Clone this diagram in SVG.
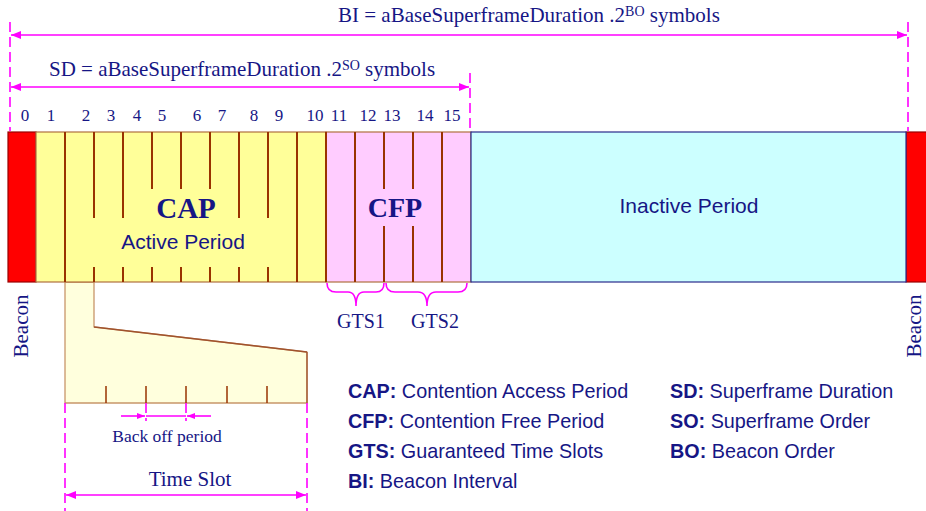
<svg xmlns="http://www.w3.org/2000/svg" width="926" height="511" viewBox="0 0 926 511">
  <defs>
    <marker id="arr" markerUnits="userSpaceOnUse" markerWidth="11" markerHeight="9" refX="10" refY="4" orient="auto-start-reverse">
      <path d="M0,0 L10,4 L0,8 z" fill="#ff00ff"/>
    </marker>
    <marker id="arrS" markerUnits="userSpaceOnUse" markerWidth="9" markerHeight="7" refX="8" refY="3" orient="auto">
      <path d="M0,0 L8,3 L0,6 z" fill="#ff00ff"/>
    </marker>
    <style>
      .serif { font-family: "Liberation Serif", "Times New Roman", serif; fill: #161685; }
      .sans { font-family: "Liberation Sans", Arial, sans-serif; fill: #161685; }
      .num { font-size: 17px; text-anchor: middle; }
      .slot { stroke: #993300; stroke-width: 2; fill: none; }
      .dash { stroke: #ff00ff; stroke-width: 1.6; stroke-dasharray: 10 5; fill: none; }
      .dim { stroke: #ff00ff; stroke-width: 1.6; fill: none; }
      .legend { font-size: 19.8px; }
      .legend .k { font-weight: bold; }
    </style>
  </defs>

  <!-- dimension guides -->
  <g id="dimensions">
    <line class="dash" x1="10" y1="22" x2="10" y2="131"/>
    <line class="dash" x1="908" y1="22" x2="908" y2="131"/>
    <line class="dash" x1="470" y1="73" x2="470" y2="131"/>
    <line class="dim" x1="11" y1="35" x2="907" y2="35" marker-start="url(#arr)" marker-end="url(#arr)"/>
    <line class="dim" x1="11" y1="87" x2="469" y2="87" marker-start="url(#arr)" marker-end="url(#arr)"/>
    <text class="serif" x="338" y="22" font-size="21">BI = aBaseSuperframeDuration .2<tspan font-size="14" dy="-6">BO</tspan><tspan dy="6"> symbols</tspan></text>
    <text class="serif" x="49" y="76" font-size="21">SD = aBaseSuperframeDuration .2<tspan font-size="14" dy="-6">SO</tspan><tspan dy="6"> symbols</tspan></text>
  </g>

  <!-- slot numbers -->
  <g id="slot-numbers" class="serif num">
    <text x="25" y="121">0</text>
    <text x="51" y="121">1</text>
    <text x="86" y="121">2</text>
    <text x="111" y="121">3</text>
    <text x="137" y="121">4</text>
    <text x="162" y="121">5</text>
    <text x="197" y="121">6</text>
    <text x="222" y="121">7</text>
    <text x="254" y="121">8</text>
    <text x="279" y="121">9</text>
    <text x="315" y="121">10</text>
    <text x="339" y="121">11</text>
    <text x="368" y="121">12</text>
    <text x="392" y="121">13</text>
    <text x="425" y="121">14</text>
    <text x="452" y="121">15</text>
  </g>

  <!-- zoomed view of one time slot -->
  <g id="slot-zoom">
    <polygon points="65,282 65,403 307,403 307,352 94,327 94,282" fill="#ffffdd" stroke="#c8966a" stroke-width="1.3"/>
    <line x1="94" y1="327" x2="307" y2="352" stroke="#a0522d" stroke-width="1.3"/>
    <line x1="307" y1="352" x2="307" y2="403" stroke="#a0522d" stroke-width="1.3"/>
    <g stroke="#993300" stroke-width="1.5">
      <line x1="106" y1="386" x2="106" y2="403"/>
      <line x1="146" y1="386" x2="146" y2="403"/>
      <line x1="186" y1="386" x2="186" y2="403"/>
      <line x1="227" y1="386" x2="227" y2="403"/>
      <line x1="267" y1="386" x2="267" y2="403"/>
    </g>
  </g>

  <!-- beacon slots -->
  <g id="beacon-start">
    <rect x="8" y="132" width="28" height="150" fill="#ff0000" stroke="#990000" stroke-width="1.2"/>
    <text class="serif" font-size="21" text-anchor="middle" transform="translate(28,326) rotate(-90)">Beacon</text>
  </g>
  <g id="beacon-end">
    <rect x="906" y="132" width="22" height="150" fill="#ff0000" stroke="#990000" stroke-width="1.2"/>
    <text class="serif" font-size="21" text-anchor="middle" transform="translate(921,326) rotate(-90)">Beacon</text>
  </g>

  <!-- contention access period -->
  <g id="cap">
    <rect x="36" y="132" width="290" height="150" fill="#ffff99" stroke="#b07040" stroke-width="1.2"/>
    <line class="slot" x1="65" y1="132" x2="65" y2="282"/>
    <path class="slot" d="M94,132 V218 M94,267 V282 M123,132 V218 M123,267 V282 M152,132 V189 M152,267 V282 M181,132 V189 M181,267 V282 M210,132 V189 M210,267 V282 M239,132 V218 M239,267 V282 M268,132 V218 M268,267 V282"/>
    <line class="slot" x1="297" y1="132" x2="297" y2="282"/>
    <text class="serif" x="186" y="218" font-size="29" font-weight="bold" text-anchor="middle">CAP</text>
    <text class="sans" x="183" y="249" font-size="21" text-anchor="middle">Active Period</text>
  </g>

  <!-- contention free period -->
  <g id="cfp">
    <rect x="326" y="132" width="145" height="150" fill="#ffccff" stroke="#b07040" stroke-width="1.2"/>
    <line class="slot" x1="326" y1="132" x2="326" y2="282"/>
    <line class="slot" x1="355" y1="132" x2="355" y2="282"/>
    <path class="slot" d="M384,132 V189 M384,226 V282 M413,132 V189 M413,226 V282"/>
    <line class="slot" x1="442" y1="132" x2="442" y2="282"/>
    <text class="serif" x="395" y="217" font-size="28" font-weight="bold" text-anchor="middle">CFP</text>
  </g>

  <!-- inactive period -->
  <g id="inactive">
    <rect x="471" y="132" width="435" height="150" fill="#ccffff" stroke="#2a2a8a" stroke-width="1.2"/>
    <text class="sans" x="689" y="213" font-size="21" text-anchor="middle">Inactive Period</text>
  </g>

  <!-- guaranteed time slots -->
  <g id="gts">
    <path class="dim" d="M327,283 Q327,292 336,292 H348 Q356,292 356,306 Q356,292 364,292 H376 Q384,292 384,283"/>
    <path class="dim" d="M386,283 Q386,292 395,292 H418 Q427,292 427,306 Q427,292 436,292 H458 Q467,292 467,283"/>
    <text class="serif" x="361" y="328" font-size="20" text-anchor="middle">GTS1</text>
    <text class="serif" x="435" y="328" font-size="20" text-anchor="middle">GTS2</text>
  </g>

  <!-- connectors: back-off period and time slot dimensions -->
  <g id="connectors">
    <line class="dash" x1="65" y1="403" x2="65" y2="511"/>
    <line class="dash" x1="307" y1="403" x2="307" y2="511"/>
    <line class="dash" x1="146" y1="403" x2="146" y2="421"/>
    <line class="dash" x1="186" y1="403" x2="186" y2="421"/>
    <line class="dim" x1="121" y1="416" x2="145" y2="416" marker-end="url(#arrS)"/>
    <line class="dim" x1="146" y1="416" x2="186" y2="416"/>
    <line class="dim" x1="211" y1="416" x2="187" y2="416" marker-end="url(#arrS)"/>
    <line class="dim" x1="66" y1="495" x2="306" y2="495" marker-start="url(#arr)" marker-end="url(#arr)"/>
  </g>
  <g id="dimension-labels">
    <text class="serif" x="167" y="442" font-size="17.5" text-anchor="middle">Back off period</text>
    <text class="serif" x="190" y="486" font-size="21" text-anchor="middle">Time Slot</text>
  </g>

  <!-- abbreviations -->
  <g id="legend" class="sans legend">
    <text x="348" y="398"><tspan class="k">CAP:</tspan> Contention Access Period</text>
    <text x="348" y="428"><tspan class="k">CFP:</tspan> Contention Free Period</text>
    <text x="348" y="458"><tspan class="k">GTS:</tspan> Guaranteed Time Slots</text>
    <text x="348" y="488"><tspan class="k">BI:</tspan> Beacon Interval</text>
    <text x="670" y="398"><tspan class="k">SD:</tspan> Superframe Duration</text>
    <text x="670" y="428"><tspan class="k">SO:</tspan> Superframe Order</text>
    <text x="670" y="458"><tspan class="k">BO:</tspan> Beacon Order</text>
  </g>
</svg>
